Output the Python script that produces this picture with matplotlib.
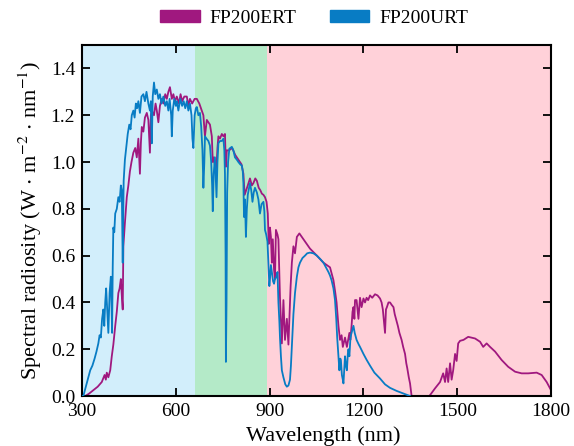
import numpy as np
import matplotlib
matplotlib.use("Agg")
import matplotlib.pyplot as plt
from matplotlib.patches import Patch

plt.rcParams['font.family'] = ['Liberation Serif', 'DejaVu Serif']
plt.rcParams['mathtext.fontset'] = 'stix'

# FP200ERT spectrum (nm, W m-2 nm-1)
ert_wl = [300, 310, 322, 336, 350, 363, 372, 376, 379, 384, 390, 395, 400, 406, 411, 416, 420, 424, 427, 430,
          432, 437, 443, 448, 453, 458, 464, 470, 475, 480, 485, 488, 491, 496, 501, 507, 512, 517, 520, 523,
          530, 535, 539, 544, 549, 555, 560, 566, 571, 576, 581, 587, 592, 597, 603, 610, 615, 620, 627, 635,
          640, 645, 652, 660, 667, 675, 683, 688, 693, 699, 704, 709, 715, 718, 722, 726, 730, 733, 736, 741,
          747, 752, 757, 760, 763, 770, 780, 790, 800, 810, 816, 820, 825, 830, 837, 843, 848, 854, 859, 865,
          870, 875, 880, 885, 890, 894, 897, 901, 904, 907, 910, 914, 917, 920, 925, 928, 933, 939, 944, 949,
          955, 960, 964, 967, 971, 976, 981, 987, 995, 1008, 1029, 1051, 1072, 1093, 1104, 1109, 1114, 1120, 1125, 1130,
          1134, 1141, 1147, 1155, 1158, 1162, 1165, 1168, 1171, 1173, 1178, 1181, 1184, 1189, 1194, 1200, 1205, 1210, 1215, 1221,
          1228, 1237, 1245, 1253, 1258, 1262, 1269, 1272, 1275, 1280, 1285, 1290, 1296, 1300, 1306, 1310, 1315, 1322, 1327, 1333,
          1337, 1340, 1345, 1349, 1354, 1410, 1413, 1429, 1445, 1455, 1461, 1466, 1471, 1477, 1482, 1487, 1493, 1498, 1503, 1509,
          1520, 1535, 1557, 1573, 1583, 1594, 1605, 1621, 1642, 1663, 1685, 1706, 1727, 1754, 1770, 1786, 1800]
ert_val = [0.0, 0.0, 0.01, 0.025, 0.04, 0.06, 0.09, 0.07, 0.10, 0.08, 0.11, 0.17, 0.22, 0.30, 0.36, 0.44, 0.46, 0.50, 0.43, 0.37,
           0.64, 0.74, 0.85, 0.90, 0.96, 1.00, 1.04, 1.06, 1.02, 1.10, 0.95, 1.08, 1.15, 1.13, 1.19, 1.21, 1.18, 1.04, 1.20, 1.22,
           1.20, 1.25, 1.22, 1.17, 1.24, 1.27, 1.25, 1.29, 1.27, 1.30, 1.32, 1.27, 1.29, 1.26, 1.28, 1.25, 1.29, 1.26, 1.28, 1.28,
           1.24, 1.27, 1.25, 1.27, 1.27, 1.25, 1.22, 1.20, 1.11, 1.18, 1.17, 1.16, 1.11, 1.00, 1.02, 0.97, 0.98, 1.06, 1.11, 1.10,
           1.12, 1.11, 1.12, 0.98, 1.05, 1.05, 1.06, 1.03, 1.01, 0.99, 0.95, 0.86, 0.88, 0.90, 0.93, 0.90, 0.91, 0.93, 0.92, 0.89,
           0.88, 0.865, 0.86, 0.85, 0.83, 0.78, 0.65, 0.72, 0.68, 0.57, 0.67, 0.54, 0.50, 0.71, 0.69, 0.67, 0.42, 0.225, 0.41, 0.24,
           0.33, 0.22, 0.36, 0.47, 0.57, 0.64, 0.61, 0.68, 0.695, 0.67, 0.63, 0.60, 0.57, 0.55, 0.495, 0.45, 0.40, 0.30, 0.24, 0.26,
           0.21, 0.25, 0.21, 0.27, 0.24, 0.30, 0.36, 0.38, 0.33, 0.41, 0.41, 0.37, 0.33, 0.42, 0.38, 0.417, 0.40, 0.42, 0.41, 0.43,
           0.42, 0.435, 0.43, 0.417, 0.40, 0.37, 0.27, 0.37, 0.38, 0.40, 0.40, 0.39, 0.38, 0.35, 0.32, 0.30, 0.27, 0.24, 0.21, 0.18,
           0.14, 0.12, 0.08, 0.054, 0.0, 0.0, 0.004, 0.033, 0.06, 0.097, 0.06, 0.118, 0.06, 0.14, 0.07, 0.11, 0.18, 0.15, 0.225, 0.236,
           0.24, 0.253, 0.246, 0.232, 0.21, 0.225, 0.21, 0.19, 0.154, 0.125, 0.104, 0.097, 0.097, 0.10, 0.09, 0.06, 0.025]

# FP200URT spectrum
urt_wl = [300, 304, 312, 320, 326, 333, 340, 346, 352, 356, 360, 364, 368, 371, 374, 377, 381, 384, 388, 392,
          394, 396, 398, 400, 403, 406, 411, 416, 420, 424, 427, 430, 433, 437, 441, 446, 451, 455, 459, 464,
          468, 472, 476, 480, 485, 490, 496, 501, 506, 512, 517, 520, 523, 526, 530, 534, 539, 544, 549, 554,
          560, 566, 571, 576, 580, 585, 587, 590, 595, 600, 603, 608, 614, 620, 625, 630, 635, 640, 645, 650,
          653, 656, 660, 664, 667, 672, 677, 681, 685, 688, 691, 693, 698, 704, 709, 713, 716, 718, 721, 725,
          728, 730, 733, 736, 741, 747, 752, 755, 757, 759, 760, 762, 764, 767, 771, 779, 784, 789, 795, 800,
          806, 811, 814, 816, 818, 821, 824, 827, 830, 834, 837, 841, 845, 849, 853, 856, 859, 864, 869, 874,
          880, 883, 885, 889, 893, 896, 899, 901, 904, 907, 911, 914, 917, 922, 925, 928, 931, 933, 936, 939,
          944, 950, 955, 960, 965, 968, 971, 976, 981, 987, 992, 997, 1005, 1013, 1020, 1029, 1040, 1051, 1062, 1072,
          1080, 1088, 1093, 1098, 1104, 1109, 1113, 1116, 1120, 1123, 1126, 1128, 1131, 1134, 1136, 1139, 1141, 1144, 1147, 1150,
          1152, 1155, 1158, 1160, 1164, 1168, 1172, 1178, 1185, 1189, 1200, 1210, 1221, 1235, 1253, 1269, 1285, 1306, 1330, 1349]
urt_val = [0.0, 0.0, 0.04, 0.08, 0.11, 0.13, 0.16, 0.19, 0.225, 0.26, 0.25, 0.33, 0.37, 0.30, 0.40, 0.46, 0.35, 0.27, 0.44, 0.51,
           0.40, 0.27, 0.55, 0.72, 0.70, 0.78, 0.80, 0.85, 0.83, 0.90, 0.88, 0.57, 0.92, 1.01, 1.06, 1.12, 1.16, 1.14, 1.20, 1.22,
           1.19, 1.25, 1.23, 1.26, 1.21, 1.28, 1.29, 1.26, 1.30, 1.25, 1.22, 1.26, 1.08, 1.28, 1.34, 1.29, 1.31, 1.27, 1.29, 1.25,
           1.28, 1.24, 1.26, 1.22, 1.27, 1.20, 1.11, 1.22, 1.27, 1.24, 1.26, 1.22, 1.27, 1.24, 1.26, 1.23, 1.26, 1.22, 1.25, 1.20,
           1.10, 1.06, 1.20, 1.23, 1.235, 1.20, 1.21, 1.15, 1.05, 0.89, 1.00, 1.11, 1.10, 1.09, 1.07, 1.00, 0.90, 0.79, 0.95, 1.02,
           0.92, 0.85, 1.00, 1.08, 1.09, 1.09, 1.10, 1.05, 0.95, 0.60, 0.146, 0.40, 0.87, 1.00, 1.057, 1.065, 1.05, 1.02, 1.01, 1.00,
           0.99, 0.985, 0.96, 0.91, 0.765, 0.84, 0.68, 0.80, 0.86, 0.89, 0.91, 0.88, 0.83, 0.87, 0.89, 0.88, 0.87, 0.84, 0.78, 0.82,
           0.83, 0.79, 0.71, 0.69, 0.66, 0.57, 0.47, 0.50, 0.56, 0.53, 0.49, 0.48, 0.50, 0.51, 0.53, 0.40, 0.32, 0.25, 0.17, 0.11,
           0.08, 0.05, 0.04, 0.045, 0.07, 0.13, 0.21, 0.35, 0.44, 0.51, 0.55, 0.57, 0.59, 0.60, 0.61, 0.613, 0.61, 0.60, 0.585, 0.57,
           0.55, 0.53, 0.515, 0.495, 0.46, 0.41, 0.33, 0.25, 0.17, 0.11, 0.16, 0.15, 0.09, 0.07, 0.054, 0.12, 0.17, 0.13, 0.11, 0.18,
           0.20, 0.17, 0.24, 0.26, 0.28, 0.30, 0.27, 0.24, 0.22, 0.21, 0.18, 0.155, 0.13, 0.10, 0.075, 0.05, 0.035, 0.022, 0.01, 0.0]

bands = [(300, 660, '#d2eefb'), (660, 890, '#b4eac8'), (890, 1800, '#ffd1d9')]
c_ert = '#a0187f'
c_urt = '#087cc4'

fig = plt.figure(figsize=(5.74, 4.46), dpi=100)
ax = fig.add_axes([0.143, 0.112, 0.817, 0.787])

for lo, hi, col in bands:
    ax.axvspan(lo, hi, color=col, lw=0, zorder=0)

ax.plot(ert_wl, ert_val, color=c_ert, lw=1.3, zorder=2)
ax.plot(urt_wl, urt_val, color=c_urt, lw=1.3, zorder=3)

ax.set_xlim(300, 1800)
ax.set_ylim(0, 1.5)
ax.set_xticks([300, 600, 900, 1200, 1500, 1800])
ax.set_yticks(np.arange(0, 1.41, 0.2))
ax.yaxis.set_major_formatter(plt.FormatStrFormatter('%.1f'))
ax.tick_params(direction='in', top=True, right=True, length=6, width=1.3, labelsize=14, pad=5)
for s in ax.spines.values():
    s.set_linewidth(1.5)

ax.set_xlabel('Wavelength (nm)', fontsize=16)
ax.xaxis.set_label_coords(0.515, -0.086)
ax.set_ylabel(r'Spectral radiosity (W $\cdot$ m$^{-2}$ $\cdot$ nm$^{-1}$)', fontsize=16, labelpad=5)

handles = [Patch(color=c_ert, label='FP200ERT'), Patch(color=c_urt, label='FP200URT')]
fig.legend(handles=handles, loc='center', bbox_to_anchor=(0.547, 0.958), ncol=2, frameon=False,
           fontsize=14, handlelength=2.05, handleheight=0.55, columnspacing=1.7, handletextpad=0.5)

fig.savefig('out.png', dpi=100)
